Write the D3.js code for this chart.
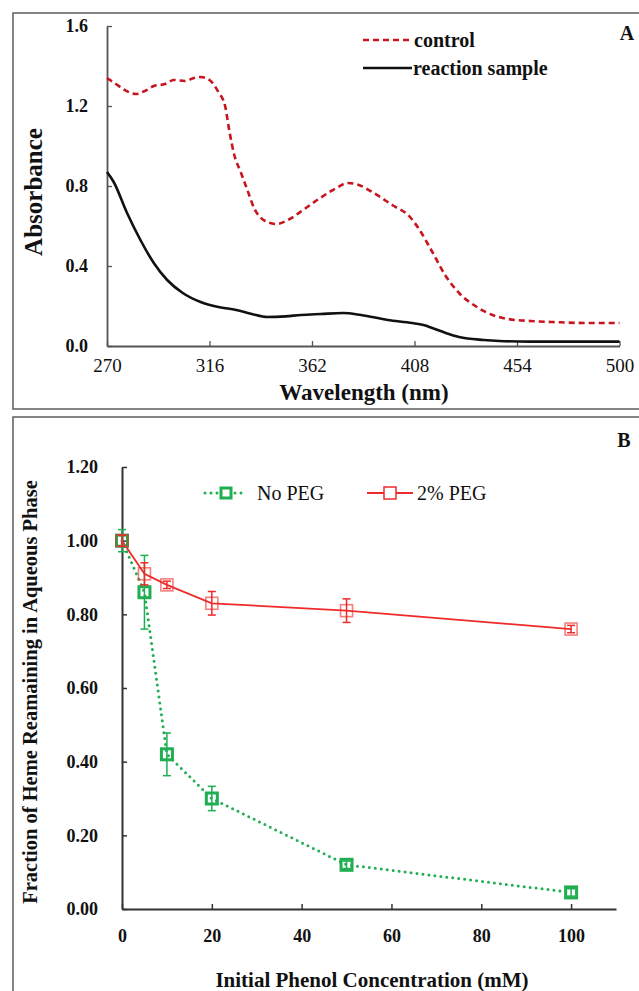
<!DOCTYPE html>
<html><head><meta charset="utf-8">
<script src="https://cdn.jsdelivr.net/npm/d3@7"></script>
<style>
html,body{margin:0;padding:0;background:#fff;}
svg{display:block;}
text{font-family:"Liberation Serif","Times New Roman",serif;}
</style></head>
<body>
<svg id="chart" width="639" height="991"></svg>
<script>
// ---- Panel A data ----
const controlNm = [270,274,278,283,287,291,296,300,305,309,312,316,320,323,325,327,330,333,336,341,346,352,358,365,373,378,383,389,398,406,410,416,422,428,436,443,450,460,470,485,500];
const controlAbs = [1.34,1.31,1.28,1.26,1.275,1.30,1.31,1.33,1.325,1.34,1.345,1.33,1.27,1.20,1.07,0.96,0.87,0.78,0.69,0.625,0.61,0.635,0.68,0.735,0.79,0.815,0.805,0.77,0.705,0.645,0.585,0.47,0.35,0.265,0.195,0.155,0.135,0.125,0.12,0.115,0.115];
const reactionNm = [270,273,279,285,291,297,304,312,320,328,335,342,350,357,366,376,384,396,407,412,416,422,428,439,446,460,480,500];
const reactionAbs = [0.87,0.82,0.665,0.53,0.415,0.33,0.265,0.22,0.195,0.18,0.16,0.145,0.148,0.155,0.16,0.165,0.155,0.13,0.115,0.105,0.09,0.065,0.045,0.03,0.025,0.022,0.022,0.022];
const wavelengthTicks = [270,316,362,408,454,500];
const absorbanceTicks = [0,0.4,0.8,1.2,1.6];

// ---- Panel B data ----
const phenolConc = [0,5,10,20,50,100];
const noPegFrac = [1.00,0.86,0.42,0.30,0.12,0.045];
const noPegErr = [0.03,0.10,0.058,0.033,0.01,0.01];
const pegFrac = [1.00,0.91,0.88,0.83,0.81,0.76];
const pegErr = [0.015,0.03,0.01,0.032,0.032,0.01];
const concTicks = [0,20,40,60,80,100];
const fracTicks = [0,0.2,0.4,0.6,0.8,1.0,1.2];

const SERIF = "'Liberation Serif','Times New Roman',serif";
const svg = d3.select("#chart");
const axisCol = "#555";

// Panel borders
svg.append("rect").attr("x",13).attr("y",13).attr("width",640).attr("height",396)
  .attr("fill","none").attr("stroke","#666").attr("stroke-width",1.6);
svg.append("rect").attr("x",13).attr("y",417).attr("width",640).attr("height",600)
  .attr("fill","none").attr("stroke","#666").attr("stroke-width",1.6);

// ================= Panel A =================
const xA = d3.scaleLinear().domain([270,500]).range([107,619.5]);
const yA = d3.scaleLinear().domain([0,1.6]).range([346,26]);

const gA = svg.append("g");
const xAxisA = gA.append("g").attr("transform",`translate(0,${yA(0)})`)
  .call(d3.axisBottom(xA).tickValues(wavelengthTicks).tickSize(-5).tickPadding(11).tickSizeOuter(0).tickFormat(d3.format("d")))
  .attr("font-family",SERIF);
xAxisA.select(".domain").attr("stroke",axisCol).attr("stroke-width",1.8);
xAxisA.selectAll(".tick line").attr("stroke",axisCol).attr("stroke-width",1.3);
xAxisA.selectAll(".tick text").attr("font-size",19).attr("fill","#111").attr("dy","0.8em");

const yAxisA = gA.append("g").attr("transform",`translate(${xA(270)},0)`)
  .call(d3.axisLeft(yA).tickValues(absorbanceTicks).tickSize(-5).tickPadding(19).tickSizeOuter(0).tickFormat(d3.format(".1f")))
  .attr("font-family",SERIF);
yAxisA.select(".domain").attr("stroke",axisCol).attr("stroke-width",1.8);
yAxisA.selectAll(".tick line").attr("stroke",axisCol).attr("stroke-width",1.3);
yAxisA.selectAll(".tick text").attr("font-size",18).attr("font-weight","bold").attr("fill","#111");

const lineA = d3.line().x(d=>xA(d[0])).y(d=>yA(d[1])).curve(d3.curveMonotoneX);
gA.append("path").datum(controlNm.map((n,i)=>[n,controlAbs[i]]))
  .attr("d",lineA).attr("fill","none").attr("stroke","#c8141e").attr("stroke-width",2.6)
  .attr("stroke-dasharray","6,4");
gA.append("path").datum(reactionNm.map((n,i)=>[n,reactionAbs[i]]))
  .attr("d",lineA).attr("fill","none").attr("stroke","#111").attr("stroke-width",2.6);

gA.append("text").attr("transform","translate(42,192) rotate(-90)").attr("text-anchor","middle")
  .attr("font-size",25).attr("font-weight","bold").attr("fill","#111").text("Absorbance");
gA.append("text").attr("x",364).attr("y",400).attr("text-anchor","middle")
  .attr("font-size",23).attr("font-weight","bold").attr("fill","#111").text("Wavelength (nm)");
gA.append("text").attr("x",627).attr("y",40).attr("text-anchor","middle")
  .attr("font-size",20).attr("font-weight","bold").attr("fill","#111").text("A");

// legend A
gA.append("line").attr("x1",363).attr("x2",412).attr("y1",40).attr("y2",40)
  .attr("stroke","#c8141e").attr("stroke-width",2.6).attr("stroke-dasharray","6,4");
gA.append("text").attr("x",414).attr("y",47).attr("font-size",20).attr("font-weight","bold").attr("fill","#111").text("control");
gA.append("line").attr("x1",363).attr("x2",412).attr("y1",68).attr("y2",68)
  .attr("stroke","#111").attr("stroke-width",2.4);
gA.append("text").attr("x",413).attr("y",75).attr("font-size",20).attr("font-weight","bold").attr("fill","#111").text("reaction sample");

// ================= Panel B =================
const xB = d3.scaleLinear().domain([0,110]).range([122,616]);
const yB = d3.scaleLinear().domain([0,1.2]).range([909,467]);
const gB = svg.append("g");

const xAxisB = gB.append("g").attr("transform",`translate(0,${yB(0)})`)
  .call(d3.axisBottom(xB).tickValues(concTicks).tickSize(-5).tickPadding(20).tickSizeOuter(0).tickFormat(d3.format("d")))
  .attr("font-family",SERIF);
xAxisB.select(".domain").attr("stroke","#333").attr("stroke-width",2);
xAxisB.selectAll(".tick line").attr("stroke","#333").attr("stroke-width",1.5);
xAxisB.selectAll(".tick text").attr("font-size",18).attr("font-weight","bold").attr("fill","#111").attr("dy","0.7em");

const yAxisB = gB.append("g").attr("transform",`translate(${xB(0)},0)`)
  .call(d3.axisLeft(yB).tickValues(fracTicks).tickSize(-5).tickPadding(24).tickSizeOuter(0).tickFormat(d3.format(".2f")))
  .attr("font-family",SERIF);
yAxisB.select(".domain").attr("stroke","#333").attr("stroke-width",2);
yAxisB.selectAll(".tick line").attr("stroke","#333").attr("stroke-width",1.5);
yAxisB.selectAll(".tick text").attr("font-size",18).attr("font-weight","bold").attr("fill","#111");

const green = "#1fae52", red = "#ee2a2a";
const lineB = d3.line().x(d=>xB(d[0])).y(d=>yB(d[1]));

const npData = phenolConc.map((c,i)=>({c, v:noPegFrac[i], e:noPegErr[i]}));
const pgData = phenolConc.map((c,i)=>({c, v:pegFrac[i], e:pegErr[i]}));

gB.append("path").datum(npData.map(d=>[d.c,d.v])).attr("d",lineB).attr("fill","none")
  .attr("stroke",green).attr("stroke-width",3).attr("stroke-linecap","round").attr("stroke-dasharray","0,6");
gB.append("path").datum(pgData.map(d=>[d.c,d.v])).attr("d",lineB).attr("fill","none")
  .attr("stroke",red).attr("stroke-width",1.8);

function errBars(data,col){
  const g = gB.append("g").attr("stroke",col).attr("stroke-width",1.5);
  data.forEach(d=>{
    const x = xB(d.c), y1 = yB(d.v+d.e), y2 = yB(d.v-d.e);
    g.append("line").attr("x1",x).attr("x2",x).attr("y1",y1).attr("y2",y2);
    g.append("line").attr("x1",x-4).attr("x2",x+4).attr("y1",y1).attr("y2",y1);
    g.append("line").attr("x1",x-4).attr("x2",x+4).attr("y1",y2).attr("y2",y2);
  });
}
errBars(npData,green);
gB.selectAll(".npm").data(npData).join("rect").attr("class","npm")
  .attr("x",d=>xB(d.c)-5.5).attr("y",d=>yB(d.v)-5.5).attr("width",11).attr("height",11)
  .attr("fill","none").attr("stroke",green).attr("stroke-width",3);
errBars(pgData,red);
gB.selectAll(".pgm").data(pgData).join("rect").attr("class","pgm")
  .attr("x",d=>xB(d.c)-6).attr("y",d=>yB(d.v)-6).attr("width",12).attr("height",12)
  .attr("fill","none").attr("stroke",red).attr("stroke-width",1.6).attr("stroke-opacity",0.6);

// legend B
gB.append("line").attr("x1",205).attr("x2",247).attr("y1",493).attr("y2",493)
  .attr("stroke",green).attr("stroke-width",3).attr("stroke-linecap","round").attr("stroke-dasharray","0,6");
gB.append("rect").attr("x",221).attr("y",488).attr("width",10).attr("height",10)
  .attr("fill","#fff").attr("stroke",green).attr("stroke-width",3);
gB.append("text").attr("x",257).attr("y",500).attr("font-size",20).attr("fill","#111").text("No PEG");
gB.append("line").attr("x1",367).attr("x2",413).attr("y1",493).attr("y2",493)
  .attr("stroke",red).attr("stroke-width",1.8);
gB.append("rect").attr("x",384).attr("y",487).attr("width",12).attr("height",12)
  .attr("fill","#fff").attr("stroke",red).attr("stroke-width",1.5);
gB.append("text").attr("x",417).attr("y",500).attr("font-size",20).attr("fill","#111").text("2% PEG");

gB.append("text").attr("transform","translate(37,692) rotate(-90)").attr("text-anchor","middle")
  .attr("font-size",20.5).attr("font-weight","bold").attr("fill","#111")
  .text("Fraction of Heme Reamaining in Aqueous Phase");
gB.append("text").attr("x",372).attr("y",987).attr("text-anchor","middle")
  .attr("font-size",21).attr("font-weight","bold").attr("fill","#111").text("Initial Phenol Concentration (mM)");
gB.append("text").attr("x",624).attr("y",447).attr("text-anchor","middle")
  .attr("font-size",20).attr("font-weight","bold").attr("fill","#111").text("B");
</script>
</body></html>
